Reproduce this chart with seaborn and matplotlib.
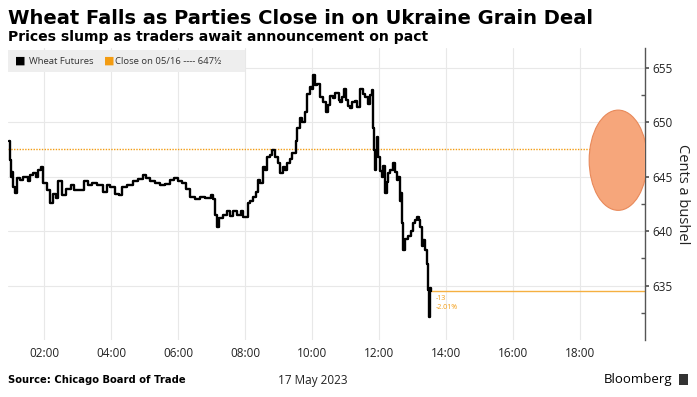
import numpy as np
import pandas as pd
import seaborn as sns
import matplotlib.pyplot as plt
import matplotlib.dates as mdates
import matplotlib.transforms as mtransforms
from matplotlib.patches import Ellipse, Rectangle

# data (17 May 2023, wheat futures, cents a bushel)
day = "2023-05-17"
times = ["00:57", "00:59", "01:01", "01:03", "01:04", "01:08", "01:12", "01:17", "01:22", "01:30",
         "01:35", "01:40", "01:46", "01:49", "01:55", "01:58", "02:05", "02:11", "02:16", "02:21",
         "02:25", "02:32", "02:38", "02:47", "02:54", "03:04", "03:12", "03:19", "03:26", "03:35",
         "03:46", "03:53", "03:58", "04:07", "04:13", "04:20", "04:29", "04:39", "04:48", "04:56",
         "05:03", "05:10", "05:19", "05:28", "05:37", "05:46", "05:53", "06:00", "06:07", "06:14",
         "06:21", "06:30", "06:39", "06:48", "06:59", "07:03", "07:06", "07:10", "07:13", "07:21",
         "07:28", "07:33", "07:38", "07:46", "07:53", "07:56", "08:04", "08:09", "08:14", "08:20",
         "08:23", "08:27", "08:32", "08:36", "08:39", "08:45", "08:48", "08:54", "08:59", "09:03",
         "09:08", "09:12", "09:15", "09:21", "09:24", "09:30", "09:33", "09:38", "09:42", "09:47",
         "09:51", "09:56", "10:00", "10:02", "10:05", "10:09", "10:14", "10:20", "10:25", "10:29",
         "10:32", "10:38", "10:41", "10:47", "10:50", "10:54", "10:57", "11:01", "11:04", "11:08",
         "11:12", "11:17", "11:21", "11:26", "11:31", "11:35", "11:40", "11:44", "11:47", "11:49",
         "11:51", "11:53", "11:55", "11:56", "11:58", "12:02", "12:05", "12:07", "12:11", "12:14",
         "12:16", "12:20", "12:25", "12:29", "12:32", "12:34", "12:38", "12:39", "12:41", "12:43",
         "12:47", "12:52", "12:56", "13:01", "13:04", "13:08", "13:12", "13:13", "13:17", "13:19",
         "13:22", "13:26", "13:28", "13:29", "13:30", "13:31", "13:33"]
prices = [648.3, 646.5, 645.0, 645.4, 644.0, 643.5, 644.9, 644.7, 645.0, 644.6,
          645.1, 645.3, 645.0, 645.6, 645.9, 644.4, 643.8, 642.6, 643.4, 643.0,
          644.6, 643.3, 643.9, 644.2, 643.8, 643.8, 644.6, 644.2, 644.4, 644.2,
          643.6, 644.2, 644.0, 643.4, 643.3, 644.0, 644.2, 644.6, 644.8, 645.1,
          644.9, 644.6, 644.4, 644.2, 644.3, 644.7, 644.9, 644.6, 644.4, 643.9,
          643.1, 642.9, 643.1, 643.0, 643.3, 642.9, 641.5, 640.4, 641.2, 641.5,
          641.8, 641.4, 641.8, 641.5, 641.8, 641.3, 642.6, 642.8, 643.1, 643.6,
          644.7, 644.4, 645.9, 645.6, 646.8, 647.0, 647.4, 646.8, 646.2, 645.3,
          645.9, 645.6, 646.2, 646.6, 647.2, 648.3, 649.5, 650.4, 650.0, 650.9,
          652.6, 653.2, 653.0, 654.3, 653.4, 653.5, 652.3, 651.8, 650.9, 651.6,
          652.4, 652.2, 652.7, 652.0, 651.8, 652.3, 653.0, 652.0, 651.5, 651.3,
          651.8, 651.9, 651.4, 653.0, 652.6, 652.3, 651.7, 652.5, 652.9, 649.5,
          647.4, 645.6, 647.0, 648.6, 646.8, 645.5, 645.0, 646.0, 643.5, 644.5,
          645.3, 645.6, 646.2, 645.4, 644.7, 645.0, 642.8, 643.5, 640.7, 638.3,
          639.3, 639.5, 640.0, 640.7, 641.0, 641.3, 641.0, 640.4, 638.6, 639.2,
          638.3, 637.0, 634.6, 632.1, 634.0, 634.8, 634.5]
prev_close = 647.5
y_ticks = [635, 640, 645, 650, 655]
x_tick_labels = ["02:00", "04:00", "06:00", "08:00", "10:00", "12:00", "14:00", "16:00", "18:00"]

df = pd.DataFrame({"time": pd.to_datetime([day + " " + t for t in times]), "price": prices})
tick_times = pd.to_datetime([day + " " + t for t in x_tick_labels])

sns.set_theme(style="white")
plt.rcParams["font.family"] = ["DejaVu Sans"]

fig = plt.figure(figsize=(6.97, 3.97), dpi=100)
ax = fig.add_axes([8 / 697, 1 - 340 / 397, 637 / 697, 292 / 397])

orange = "#f39c12"

ax.axhline(prev_close, color=orange, lw=1.0, ls=(0, (1, 1)), zorder=2)

sns.lineplot(data=df, x="time", y="price", color="black", lw=1.7,
             drawstyle="steps-post", estimator=None, ax=ax, zorder=3)

last_t = df["time"].iloc[-1]
last_p = df["price"].iloc[-1]
x_end = pd.Timestamp(day + " 19:56")
ax.plot([last_t, x_end], [last_p, last_p], color="#f5b041", lw=1.0, zorder=2,
        solid_capstyle="butt")

chg = last_p - prev_close
pct = chg / prev_close * 100
ax.annotate(f"{chg:.0f}\n{pct:.2f}%", (last_t, last_p), xytext=(3, -3),
            textcoords="offset points", fontsize=5, color=orange, va="top",
            family=["Open Sans", "DejaVu Sans"], linespacing=1.3)

# highlight ellipse at right edge
cx = mdates.date2num(pd.Timestamp(day + " 19:08"))
ax.add_patch(Ellipse((cx, 646.5), 104 / 1440, 9.2, facecolor="#f6a67b",
                     edgecolor="#e8895a", lw=0.8, zorder=4))

ax.set_xlim(pd.Timestamp(day + " 00:55"), x_end)
ax.set_ylim(630, 656.8)

ax.set_xticks(tick_times)
ax.set_xticklabels(x_tick_labels)
ax.set_yticks(y_ticks)
ax.set_yticks([632.5, 637.5, 642.5, 647.5, 652.5], minor=True)
ax.yaxis.tick_right()
ax.yaxis.set_label_position("right")

ax.grid(True, which="major", color="#e8e8e8", lw=0.8)
ax.set_axisbelow(True)
for s in ["top", "left", "bottom"]:
    ax.spines[s].set_visible(False)
ax.spines["right"].set_color("#555555")
ax.spines["right"].set_linewidth(1.0)

tick_font = ["Open Sans", "DejaVu Sans"]
ax.tick_params(axis="x", length=0, pad=5, labelsize=8.5, labelcolor="#222222")
ax.tick_params(axis="y", which="major", length=3, direction="out", pad=2,
               labelsize=8.5, labelcolor="#222222", color="#555555", right=True, left=False)
ax.tick_params(axis="y", which="minor", length=3, direction="in", color="#555555",
               right=True, left=False)
for lab in ax.get_xticklabels() + ax.get_yticklabels():
    lab.set_family(tick_font)

ax.set_xlabel("")
ax.set_ylabel("Cents a bushel", rotation=270, labelpad=13, fontsize=10.5,
              color="#222222", family=tick_font)

trans = mtransforms.blended_transform_factory(ax.transData, ax.transAxes)
ax.text(tick_times[4], -0.115, "17 May 2023", transform=trans, ha="center", va="top",
        fontsize=8.5, color="#222222", family=tick_font)

# legend strip
ax.add_patch(Rectangle((0, 0.918), 0.372, 0.075, transform=ax.transAxes,
                       facecolor="#eeeeee", edgecolor="none", zorder=5))
ly = 0.955
ax.text(0.011, ly, "■", transform=ax.transAxes, fontsize=8, color="black",
        va="center", zorder=6)
ax.text(0.033, ly, "Wheat Futures", transform=ax.transAxes, fontsize=6.8, color="#333333",
        va="center", family=tick_font, zorder=6)
ax.text(0.150, ly, "■", transform=ax.transAxes, fontsize=8, color=orange,
        va="center", zorder=6)
ax.text(0.168, ly, "Close on 05/16 ---- 647½", transform=ax.transAxes, fontsize=6.8,
        color="#333333", va="center", family=tick_font, zorder=6)

fig.text(8 / 697, 1 - 18 / 397, "Wheat Falls as Parties Close in on Ukraine Grain Deal",
         fontsize=14, fontweight="bold", va="center", ha="left", color="black")
fig.text(8 / 697, 1 - 37 / 397, "Prices slump as traders await announcement on pact",
         fontsize=10.1, fontweight="bold", va="center", ha="left", color="black")
fig.text(8 / 697, 1 - 380 / 397, "Source: Chicago Board of Trade", fontsize=7.2,
         fontweight="bold", va="center", ha="left", color="black")
fig.text(672 / 697, 1 - 379 / 397, "Bloomberg", fontsize=9.5, va="center", ha="right",
         color="black", family=tick_font)
fig.patches.append(Rectangle((679 / 697, 1 - 385 / 397), 9 / 697, 11 / 397,
                             transform=fig.transFigure, facecolor="#333333",
                             edgecolor="none"))

fig.savefig("out.png", dpi=100, facecolor="white")
